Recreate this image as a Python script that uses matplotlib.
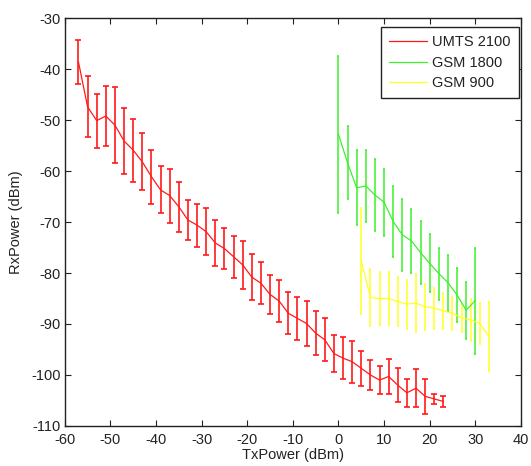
import numpy as np
import matplotlib
matplotlib.use("Agg")
import matplotlib.pyplot as plt

plt.rcParams["font.family"] = ["Liberation Sans", "DejaVu Sans"]
plt.rcParams["axes.unicode_minus"] = False

# -- UMTS 2100 --
umts_tx = np.arange(-57, 24, 2)
umts_rx = [-38.6, -47.4, -50.1, -49.2, -51.0, -54.1, -55.9, -58.2, -61.1, -63.7,
           -64.8, -67.0, -69.6, -70.6, -71.9, -74.1, -75.2, -76.8, -78.4, -80.8,
           -82.0, -84.2, -85.5, -87.9, -88.9, -89.9, -91.8, -93.1, -95.8, -96.7,
           -97.4, -98.7, -100.0, -101.0, -100.3, -102.0, -103.5, -102.6, -104.2,
           -104.7, -105.2]
umts_err = [4.3, 6.0, 5.3, 5.8, 7.4, 6.4, 6.2, 5.6, 5.3, 4.6,
            5.3, 4.9, 4.0, 4.2, 4.65, 4.5, 4.1, 4.1, 4.65, 4.5,
            4.15, 3.9, 4.15, 4.15, 4.25, 4.35, 4.3, 4.2, 3.6, 4.1,
            4.1, 3.4, 3.0, 2.8, 3.5, 3.4, 2.8, 3.7, 3.4, 0.95, 1.1]

# -- GSM 1800 --
gsm1800_tx = np.arange(0, 31, 2)
gsm1800_rx = [-52.8, -58.4, -63.3, -62.9, -64.7, -66.1, -69.9, -72.5,
              -73.7, -76.0, -78.1, -80.1, -81.9, -84.3, -87.3, -85.4]
gsm1800_err = [15.45, 7.15, 7.35, 7.1, 7.05, 6.6, 6.95, 7.05,
               6.25, 6.25, 5.7, 5.1, 5.5, 5.35, 5.6, 10.4]

# -- GSM 900 --
gsm900_tx = np.arange(5, 34, 2)
gsm900_rx = [-77.6, -84.8, -85.0, -85.0, -85.6, -86.1, -85.9, -86.6,
             -86.9, -87.4, -87.9, -88.8, -89.2, -89.9, -92.5]
gsm900_err = [10.45, 5.5, 5.2, 5.2, 4.8, 4.8, 5.65, 4.5,
              4.0, 3.5, 3.2, 2.7, 4.1, 4.0, 6.8]

fig = plt.figure(figsize=(5.31, 4.66), dpi=100)
ax = fig.add_axes([0.122, 0.086, 0.859, 0.875])

ax.errorbar(umts_tx, umts_rx, yerr=umts_err, color="#ff1a1a", lw=0.9,
            elinewidth=1.2, capsize=2.5, capthick=1.2, label="UMTS 2100")
ax.errorbar(gsm1800_tx, gsm1800_rx, yerr=gsm1800_err, color="#3ef02e", lw=0.9,
            elinewidth=1.1, capsize=0.9, capthick=1.1, label="GSM 1800")
ax.errorbar(gsm900_tx, gsm900_rx, yerr=gsm900_err, color="#ffff22", lw=0.9,
            elinewidth=1.1, capsize=0.9, capthick=1.1, label="GSM 900")

ax.set_xlim(-60, 40)
ax.set_ylim(-110, -30)
ax.set_xticks(np.arange(-60, 41, 10))
ax.set_yticks(np.arange(-110, -29, 10))
ax.tick_params(direction="in", top=True, right=True, labelsize=10.5,
               length=4, colors="#222222")
ax.tick_params(axis="x", pad=5)
ax.tick_params(axis="y", pad=3)
for s in ax.spines.values():
    s.set_linewidth(1.0)
    s.set_color("#222222")

ax.set_xlabel("TxPower (dBm)", fontsize=10.5, labelpad=1, color="#222222")
ax.set_ylabel("RxPower (dBm)", fontsize=10.5, labelpad=6, color="#222222")

handles, labels = ax.get_legend_handles_labels()
handles = [h[0] for h in handles]
leg = ax.legend(handles, labels, loc="upper right", bbox_to_anchor=(0.9956, 0.978),
                borderaxespad=0, fontsize=10.5, fancybox=False, edgecolor="#222222",
                handlelength=2.6, handletextpad=0.35, borderpad=0.55,
                labelspacing=0.45, framealpha=1)
leg.get_frame().set_linewidth(1.0)
for t in leg.get_texts():
    t.set_color("#222222")

fig.savefig("out.png", dpi=100)
